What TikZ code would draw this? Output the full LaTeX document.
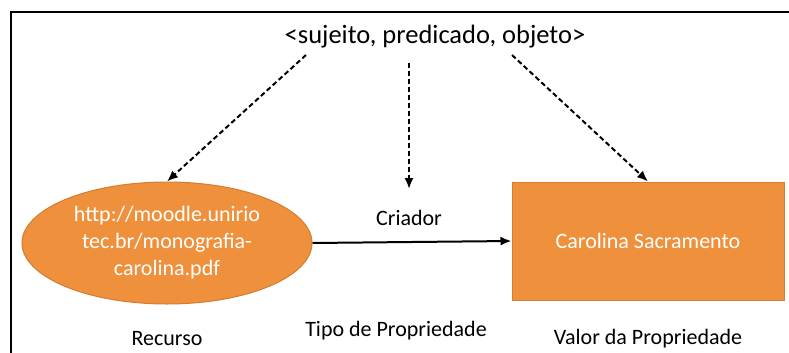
\documentclass[tikz,border=0pt]{standalone}
\usepackage{fontspec}
\setmainfont{Carlito}
\usetikzlibrary{arrows.meta,shapes.geometric}
\definecolor{orfill}{RGB}{239,145,60}
\definecolor{ordraw}{RGB}{210,125,50}
\tikzset{
  lbl/.style={font=\fontsize{22}{26}\selectfont, text=black, inner sep=0pt},
  orshape/.style={fill=orfill, draw=ordraw, line width=1pt, text=white,
    font=\fontsize{22}{27}\selectfont, align=center},
  dasharrow/.style={line width=2pt, dash pattern=on 5pt off 3pt,
    -{Latex[length=11pt,width=9pt]}},
  solidarrow/.style={line width=2pt, -{Latex[length=11pt,width=9pt]}},
}
\begin{document}
\begin{tikzpicture}[x=1pt,y=-1pt]
\useasboundingbox (0,0) rectangle (789,353);
\fill[white] (0,0) rectangle (789,353);
% frame
\draw[line width=2.2pt] (11,353) -- (11,12) -- (789,12);
% title
\node[lbl, font=\fontsize{26.5}{30}\selectfont] (title) at (435,37) {<sujeito, predicado, objeto>};
% shapes
\node[orshape, ellipse, minimum width=290pt, minimum height=122pt, inner sep=0pt] (rec) at (167,243)
  {http://moodle.unirio\\tec.br/monografia-\\carolina.pdf};
\node[orshape, rectangle, minimum width=272pt, minimum height=118pt, inner sep=0pt] (val) at (648,241)
  {Carolina Sacramento};
% labels
\node[lbl] (criador) at (409,218) {Criador};
\node[lbl] (lrec) at (167,339) {Recurso};
\node[lbl] (ltipo) at (396,331) {Tipo de Propriedade};
\node[lbl] (lval) at (648,339) {Valor da Propriedade};
% connector starts
\coordinate (s1) at (306,55);
\coordinate (s2) at (409,63);
\coordinate (s3) at (512,55);
\coordinate (e2) at (409,189);
% arrows
\draw[dasharrow] (s1) -- (rec.north);
\draw[dasharrow] (s2) -- (e2);
\draw[dasharrow] (s3) -- (val.north);
\draw[solidarrow] (rec.east) -- (val.west);
\end{tikzpicture}
\end{document}
